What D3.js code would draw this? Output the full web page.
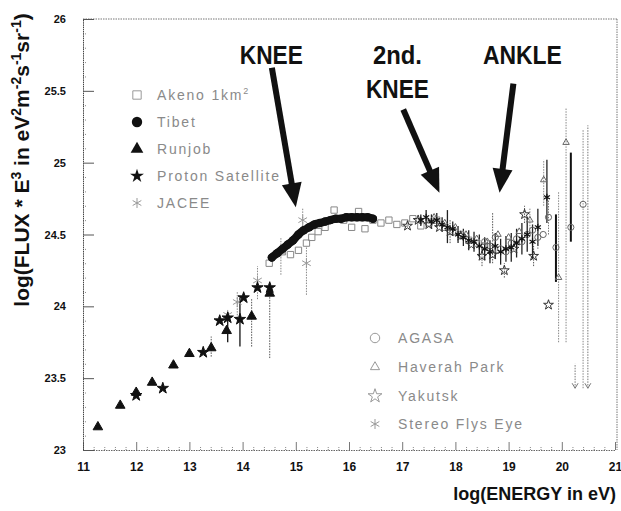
<!DOCTYPE html>
<html>
<head>
<meta charset="utf-8">
<script src="https://cdn.jsdelivr.net/npm/d3@7"></script>
<style>
  html, body { margin: 0; padding: 0; background: #fff; }
  svg { display: block; }
  .tick text { font-family: "Liberation Sans", Arial, sans-serif; font-weight: bold; fill: #111; }
</style>
</head>
<body>
<svg id="chart" width="621" height="511"></svg>
<script>
// Axis tick values and labels
const xTicks = [11, 12, 13, 14, 15, 16, 17, 18, 19, 20, 21];
const xTickLabels = ["11", "12", "13", "14", "15", "16", "17", "18", "19", "20", "21"];
const yTicks = [23, 23.5, 24, 24.5, 25, 25.5, 26];
const yTickLabels = ["23", "23.5", "24", "24.5", "25", "25.5", "26"];

// Runjob (filled triangles)
const runjobE  = [11.28, 11.70, 12.00, 12.30, 12.70, 13.00, 13.41, 13.70, 14.17, 14.51];
const runjobV  = [23.16, 23.31, 23.40, 23.47, 23.59, 23.67, 23.71, 23.83, 23.93, 24.09];
const runjobLo = [null, null, null, null, null, null, 23.65, null, 23.72, 23.64];
const runjobHi = [null, null, null, null, null, null, 23.79, null, 24.05, 24.16];

// Proton Satellite (filled stars)
const protonE  = [12.00, 12.50, 13.26, 13.57, 13.72, 13.95, 14.02, 14.28, 14.51];
const protonV  = [23.38, 23.43, 23.68, 23.90, 23.92, 23.91, 24.06, 24.13, 24.13];
const protonLo = [null, null, null, null, 23.75, 23.72, null, null, null];
const protonHi = [null, null, null, null, 23.96, 24.06, null, null, null];

// JACEE (asterisks)
const jaceeE  = [13.72, 13.90, 14.28, 14.72, 15.13, 15.20];
const jaceeV  = [23.94, 24.03, 24.18, 24.38, 24.60, 24.30];
const jaceeLo = [null, 23.90, 24.05, 24.22, 24.50, 24.08];
const jaceeHi = [null, 24.10, 24.28, 24.48, 24.68, 24.42];

// Tibet (filled circles)
const tibetE = [14.55, 14.65, 14.75, 14.85, 14.95, 15.05, 15.15, 15.25, 15.35, 15.45,
                15.55, 15.65, 15.75, 15.85, 15.95, 16.05, 16.15, 16.25, 16.35, 16.45];
const tibetV = [24.34, 24.37, 24.40, 24.43, 24.46, 24.50, 24.53, 24.55, 24.57, 24.58,
                24.59, 24.60, 24.61, 24.61, 24.62, 24.62, 24.62, 24.62, 24.62, 24.61];

// Akeno 1 km² (open squares)
const akenoE = [14.50, 14.75, 14.90, 15.05, 15.20, 15.30, 15.42, 15.55, 15.72, 15.90,
                16.05, 16.18, 16.30, 16.45, 16.60, 16.75, 16.90, 17.05, 17.20, 17.35,
                17.50, 17.65, 17.80, 17.95, 18.10, 18.25, 18.40, 18.55, 18.70];
const akenoV = [24.30, 24.38, 24.36, 24.39, 24.44, 24.48, 24.52, 24.55, 24.67, 24.60,
                24.55, 24.66, 24.54, 24.60, 24.58, 24.60, 24.57, 24.58, 24.61, 24.56,
                24.58, 24.60, 24.55, 24.52, 24.50, 24.46, 24.44, 24.42, 24.40];

// AGASA (open circles)
const agasaE  = [18.55, 18.65, 18.75, 18.85, 18.95, 19.05, 19.15, 19.25, 19.35, 19.45,
                 19.55, 19.65, 19.75, 19.89, 20.17, 20.40];
const agasaV  = [24.45, 24.42, 24.48, 24.40, 24.38, 24.44, 24.47, 24.45, 24.50, 24.53,
                 24.48, 24.50, 24.62, 24.41, 24.55, 24.71];
const agasaLo = [null, null, null, null, null, null, null, null, null, null,
                 24.40, null, 24.50, 24.17, 24.45, 23.43];
const agasaHi = [null, null, null, null, null, null, null, null, null, null,
                 24.58, null, 24.74, 24.64, 25.07, 25.23];

// Haverah Park (open triangles)
const haverahE  = [17.60, 17.80, 18.00, 18.20, 18.40, 18.60, 18.80, 19.00, 19.20, 19.40, 19.66, 19.94, 20.08];
const haverahV  = [24.62, 24.58, 24.55, 24.50, 24.47, 24.45, 24.50, 24.48, 24.52, 24.60, 24.88, 24.20, 25.14];
const haverahLo = [null, null, null, null, null, null, null, null, null, 24.52, 24.70, 23.75, 23.75];
const haverahHi = [null, null, null, null, null, null, null, null, null, 24.68, 25.02, 24.80, 25.38];

// Yakutsk (open stars)
const yakutskE  = [17.10, 17.30, 17.50, 17.70, 17.90, 18.10, 18.30, 18.50, 18.70, 18.92, 19.10, 19.30, 19.47, 19.75];
const yakutskV  = [24.56, 24.60, 24.57, 24.55, 24.52, 24.49, 24.43, 24.35, 24.36, 24.25, 24.40, 24.64, 24.35, 24.01];
const yakutskLo = [null, null, null, null, 24.44, null, null, 24.28, 24.30, 24.20, null, 24.58, 24.28, null];
const yakutskHi = [null, null, null, null, 24.60, null, null, 24.42, 24.65, 24.30, null, 24.70, 24.42, null];

// Stereo Fly's Eye (asterisks)
const flysE  = [17.35, 17.45, 17.55, 17.65, 17.75, 17.85, 17.95, 18.05, 18.15, 18.25, 18.35, 18.45,
                18.55, 18.65, 18.75, 18.85, 18.95, 19.05, 19.15, 19.25, 19.35, 19.45, 19.55, 19.72];
const flysV  = [24.60, 24.62, 24.59, 24.60, 24.57, 24.55, 24.54, 24.50, 24.48, 24.46, 24.45, 24.42,
                24.40, 24.38, 24.42, 24.38, 24.40, 24.41, 24.44, 24.47, 24.50, 24.45, 24.55, 24.76];
const flysLo = [24.56, 24.57, 24.54, 24.55, 24.52, 24.44, 24.49, 24.44, 24.42, 24.39, 24.38, 24.34,
                24.32, 24.30, 24.33, 24.29, 24.31, 24.31, 24.34, 24.36, 24.38, 24.33, 24.42, 24.58];
const flysHi = [24.64, 24.67, 24.64, 24.65, 24.62, 24.67, 24.59, 24.56, 24.54, 24.53, 24.52, 24.50,
                24.48, 24.46, 24.51, 24.47, 24.49, 24.51, 24.54, 24.58, 24.62, 24.57, 24.68, 25.02];

// Upper limits at the highest energies (bar from hi down to an arrow)
const limitE  = [20.25, 20.49];
const limitLo = [23.43, 23.43];
const limitHi = [23.60, 25.26];

const svg = d3.select("#chart");
const x = d3.scaleLinear().domain([11, 21]).range([83, 615]);
const y = d3.scaleLinear().domain([23, 26]).range([450, 19]);

const FONT = '"Liberation Sans", Arial, Helvetica, sans-serif';

// plot frame
const frame = svg.append("g").attr("fill", "none").attr("stroke", "#777").attr("stroke-width", 1)
  .attr("stroke-dasharray", "1.5,1");
frame.append("line").attr("x1", x(11)).attr("x2", x(21) + 2).attr("y1", y(26)).attr("y2", y(26));
frame.append("line").attr("x1", x(21) + 2).attr("x2", x(21) + 2).attr("y1", y(26)).attr("y2", y(23));

// minor ticks
svg.append("g").attr("transform", `translate(0,${y(23)})`)
  .call(d3.axisBottom(x).tickValues(d3.range(11.2, 21, 0.2).filter(v => Math.abs(v - Math.round(v)) > 0.05))
    .tickSize(-4).tickFormat(""))
  .call(g => g.select(".domain").remove())
  .call(g => g.selectAll("line").attr("stroke", "#888").attr("stroke-dasharray", "1,1"));
svg.append("g").attr("transform", `translate(${x(11)},0)`)
  .call(d3.axisLeft(y).tickValues(d3.range(23.1, 26, 0.1).filter(v => Math.abs(v * 2 - Math.round(v * 2)) > 0.05))
    .tickSize(-4).tickFormat(""))
  .call(g => g.select(".domain").remove())
  .call(g => g.selectAll("line").attr("stroke", "#888").attr("stroke-dasharray", "1,1"));

// bottom axis
const xAxis = svg.append("g").attr("transform", `translate(0,${y(23)})`)
  .call(d3.axisBottom(x).tickValues(xTicks).tickFormat((d, i) => xTickLabels[i])
    .tickSizeInner(-8).tickSizeOuter(0).tickPadding(12));
xAxis.select(".domain").attr("stroke", "#666").attr("stroke-dasharray", "1.5,1");
xAxis.selectAll(".tick line").attr("stroke", "#777");
xAxis.selectAll(".tick text").attr("font-size", 12);

// left axis
const yAxis = svg.append("g").attr("transform", `translate(${x(11)},0)`)
  .call(d3.axisLeft(y).tickValues(yTicks).tickFormat((d, i) => yTickLabels[i])
    .tickSizeInner(-11).tickSizeOuter(0).tickPadding(17));
yAxis.select(".domain").attr("stroke", "#444").attr("stroke-dasharray", "1.5,0.7");
yAxis.selectAll(".tick line").attr("stroke", "#555");
yAxis.selectAll(".tick text").attr("font-size", 11);

// axis titles
svg.append("text").attr("x", 616).attr("y", 500).attr("text-anchor", "end")
  .attr("font-family", FONT).attr("font-weight", "bold").attr("font-size", 18).attr("fill", "#111")
  .text("log(ENERGY in eV)");

const yTitleParts = [["log(FLUX * E", false], ["3", true], [" in eV", false], ["2", true], ["m", false],
  ["-2", true], ["s", false], ["-1", true], ["sr", false], ["-1", true], [")", false]];
const yTitle = svg.append("text").attr("transform", "translate(29,160) rotate(-90)")
  .attr("text-anchor", "middle").attr("font-family", FONT).attr("font-weight", "bold")
  .attr("font-size", 21).attr("fill", "#111");
yTitleParts.forEach(([t, sup], i) => {
  const prevSup = i > 0 && yTitleParts[i - 1][1];
  const ts = yTitle.append("tspan").text(t);
  if (sup) ts.attr("font-size", 14).attr("dy", -8);
  else ts.attr("dy", prevSup ? 8 : 0);
});

// helpers
const rows = (E, V, Lo, Hi) => E.map((e, i) => ({ e, v: V[i], lo: Lo ? Lo[i] : null, hi: Hi ? Hi[i] : null }));

function errorBars(data, color, dashed, width) {
  svg.append("g").selectAll("line").data(data.filter(d => d.lo != null)).join("line")
    .attr("x1", d => x(d.e)).attr("x2", d => x(d.e))
    .attr("y1", d => y(d.lo)).attr("y2", d => y(d.hi))
    .attr("stroke", color).attr("stroke-width", width || 1)
    .attr("stroke-dasharray", dashed ? "1.5,1.2" : null);
}

function markers(data, type, size, fill, stroke, sw) {
  svg.append("g").selectAll("path").data(data).join("path")
    .attr("transform", d => `translate(${x(d.e)},${y(d.v)})`)
    .attr("d", d3.symbol().type(type).size(size))
    .attr("fill", fill).attr("stroke", stroke).attr("stroke-width", sw || 1);
}

const akeno = rows(akenoE, akenoV);
const tibet = rows(tibetE, tibetV);
const runjob = rows(runjobE, runjobV, runjobLo, runjobHi);
const proton = rows(protonE, protonV, protonLo, protonHi);
const jacee = rows(jaceeE, jaceeV, jaceeLo, jaceeHi);
const agasa = rows(agasaE, agasaV, agasaLo, agasaHi);
const haverah = rows(haverahE, haverahV, haverahLo, haverahHi);
const yakutsk = rows(yakutskE, yakutskV, yakutskLo, yakutskHi);
const flys = rows(flysE, flysV, flysLo, flysHi);

// error bars
errorBars(runjob, "#555", true);
errorBars(proton, "#111", false, 1.3);
errorBars(jacee, "#888", true);
errorBars(haverah, "#888", true);
errorBars(yakutsk, "#555", true);
errorBars(flys, "#222", false, 1.3);
errorBars(agasa.filter(d => d.e < 19.8), "#777", true);
errorBars(agasa.filter(d => d.e > 19.8 && d.e < 20.3), "#111", false, 2);
errorBars(agasa.filter(d => d.e > 20.3), "#888", true);

// upper limits
const limits = limitE.map((e, i) => ({ e, lo: limitLo[i], hi: limitHi[i] }));
errorBars(limits, "#777", true);
svg.append("g").selectAll("path").data(limits).join("path")
  .attr("d", d => `M${x(d.e) - 3},${y(d.lo) - 5}L${x(d.e)},${y(d.lo)}L${x(d.e) + 3},${y(d.lo) - 5}`)
  .attr("fill", "none").attr("stroke", "#777");

// markers
markers(akeno, d3.symbolSquare, 40, "none", "#888");
markers(jacee, d3.symbolAsterisk, 70, "none", "#999");
markers(haverah, d3.symbolTriangle2, 30, "none", "#666");
markers(agasa, d3.symbolCircle, 30, "none", "#666");
markers(yakutsk, d3.symbolStar, 30, "none", "#333");
markers(flys, d3.symbolAsterisk, 34, "none", "#111", 1.2);
markers(runjob, d3.symbolTriangle, 40, "#111", "#111");
markers(proton, d3.symbolStar, 40, "#111", "#111");

// Tibet: densely packed filled circles forming a continuous band
svg.append("path").datum(tibet)
  .attr("d", d3.line().x(d => x(d.e)).y(d => y(d.v)).curve(d3.curveMonotoneX))
  .attr("fill", "none").attr("stroke", "#111").attr("stroke-width", 8).attr("stroke-linecap", "round");
markers(tibet, d3.symbolCircle, 56, "#111", "none");

// annotations: label + arrow, positions in (log E, log flux)
const notes = [
  { lines: ["KNEE"], tx: 14.54, ty: 25.69, from: [14.55, 25.66], to: [15.0, 24.69] },
  { lines: ["2nd.", "KNEE"], tx: 16.91, ty: 25.69, from: [17.02, 25.37], to: [17.70, 24.79] },
  { lines: ["ANKLE"], tx: 19.26, ty: 25.69, from: [19.09, 25.55], to: [18.83, 24.79] }
];
const widths = { "KNEE": 63, "2nd.": 49, "ANKLE": 79 };
notes.forEach(n => {
  n.lines.forEach((t, i) => {
    svg.append("text").attr("x", x(n.tx)).attr("y", y(n.ty) + i * 34)
      .attr("text-anchor", "middle").attr("font-family", FONT).attr("font-weight", "bold")
      .attr("font-size", 25).attr("fill", "#111")
      .attr("textLength", widths[t]).attr("lengthAdjust", "spacingAndGlyphs").text(t);
  });
  const x0 = x(n.from[0]), y0 = y(n.from[1]), x1 = x(n.to[0]), y1 = y(n.to[1]);
  const dx = x1 - x0, dy = y1 - y0, L = Math.hypot(dx, dy);
  const ux = dx / L, uy = dy / L, px = -uy, py = ux;
  const hl = 24, hw = 10;
  const bx = x1 - ux * hl, by = y1 - uy * hl;
  svg.append("line").attr("x1", x0).attr("y1", y0).attr("x2", bx + ux * 2).attr("y2", by + uy * 2)
    .attr("stroke", "#111").attr("stroke-width", 6);
  svg.append("path")
    .attr("d", `M${x1},${y1}L${bx + px * hw},${by + py * hw}L${bx - px * hw},${by - py * hw}Z`)
    .attr("fill", "#111");
});

// legends
const legend1 = [
  { label: "Akeno 1km", sup: "2", type: d3.symbolSquare, size: 70, fill: "none", stroke: "#999" },
  { label: "Tibet", type: d3.symbolCircle, size: 85, fill: "#111", stroke: "none" },
  { label: "Runjob", type: d3.symbolTriangle, size: 70, fill: "#111", stroke: "none" },
  { label: "Proton Satellite", type: d3.symbolStar, size: 60, fill: "#111", stroke: "none" },
  { label: "JACEE", type: d3.symbolAsterisk, size: 70, fill: "none", stroke: "#999" }
];
const legend1Y = [95, 122, 149, 176, 203];
const legend2 = [
  { label: "AGASA", type: d3.symbolCircle, size: 70, fill: "none", stroke: "#999" },
  { label: "Haverah Park", type: d3.symbolTriangle2, size: 60, fill: "none", stroke: "#999" },
  { label: "Yakutsk", type: d3.symbolStar, size: 60, fill: "none", stroke: "#999" },
  { label: "Stereo Flys Eye", type: d3.symbolAsterisk, size: 70, fill: "none", stroke: "#999" }
];
const legend2Y = [338, 367, 396, 424];

function drawLegend(items, ys, mx, tx) {
  const g = svg.append("g");
  items.forEach((it, i) => {
    g.append("path").attr("transform", `translate(${mx},${ys[i]})`)
      .attr("d", d3.symbol().type(it.type).size(it.size))
      .attr("fill", it.fill).attr("stroke", it.stroke);
    const t = g.append("text").attr("x", tx).attr("y", ys[i] + 5)
      .attr("font-family", FONT).attr("font-size", 14).attr("letter-spacing", 1.8)
      .attr("fill", "#8a8a8a").text(it.label);
    if (it.sup) t.append("tspan").attr("font-size", 9).attr("dy", -6).text(it.sup);
  });
}
drawLegend(legend1, legend1Y, 137, 157);
drawLegend(legend2, legend2Y, 375, 398);
</script>
</body>
</html>
